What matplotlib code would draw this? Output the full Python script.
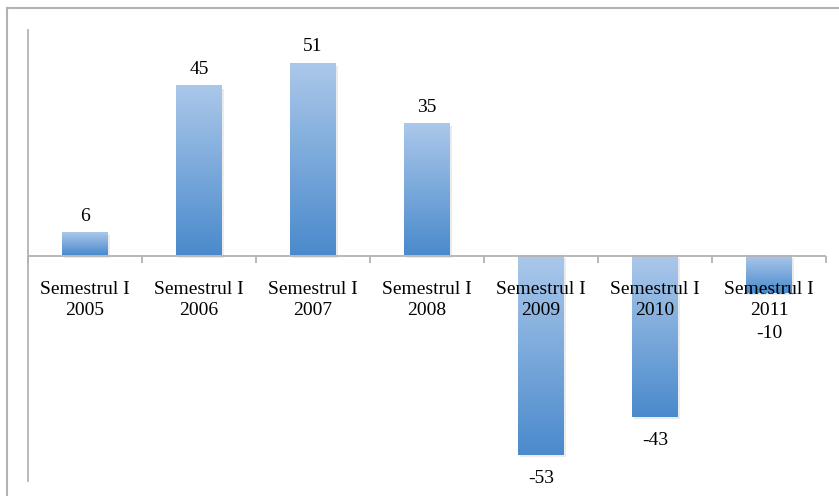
import numpy as np
import matplotlib
matplotlib.use("Agg")
import matplotlib.pyplot as plt
from matplotlib.colors import LinearSegmentedColormap
from matplotlib.lines import Line2D
import matplotlib.transforms as mtransforms

# chart data
categories = ["Semestrul I\n2005", "Semestrul I\n2006", "Semestrul I\n2007",
              "Semestrul I\n2008", "Semestrul I\n2009", "Semestrul I\n2010",
              "Semestrul I\n2011"]
values = [6, 45, 51, 35, -53, -43, -10]
value_labels = ["6", "45", "51", "35", "-53", "-43", "-10"]

W, H = 839, 496
fig = plt.figure(figsize=(W / 100, H / 100), dpi=100)
ax = fig.add_axes([28 / W, 1 - 481 / H, (826 - 28) / W, (481 - 30) / H])

grey = "#b3b3b3"
font = {"family": "Liberation Serif", "size": 14}

# gradient from light top to darker bottom
cmap = LinearSegmentedColormap.from_list("blue_grad", ["#abc8ea", "#4a8acc"])
grad = np.linspace(0, 1, 256).reshape(-1, 1)

x = np.arange(len(values))
bars = ax.bar(x, values, width=0.4, color="none", edgecolor="none", zorder=1)
for b in bars:
    x0, w = b.get_x(), b.get_width()
    y0, y1 = sorted([0, b.get_height()])
    # faint shadow
    ax.bar(x0 + w / 2 + 0.02, y1 - y0, bottom=y0 - 0.6, width=w,
           color="#000000", alpha=0.08, zorder=0.9)
    ax.imshow(grad, cmap=cmap, aspect="auto", extent=(x0, x0 + w, y0, y1),
              origin="upper", zorder=1)
ax.set_xlim(-0.5, len(values) - 0.5)
ax.set_ylim(-60, 60)

# value labels
for xi, v, lab in zip(x, values, value_labels):
    if v >= 0:
        ax.annotate(lab, (xi, v), xytext=(0, 6), textcoords="offset points",
                    ha="center", va="bottom", **font)
    elif v > -20:
        ax.annotate(lab, (xi, v), xytext=(0, -23), textcoords="offset points",
                    ha="center", va="top", **font)
    else:
        ax.annotate(lab, (xi, v), xytext=(0, -11), textcoords="offset points",
                    ha="center", va="top", **font)

# axes styling
for s in ["top", "right", "bottom"]:
    ax.spines[s].set_visible(False)
ax.spines["left"].set_color(grey)
ax.spines["left"].set_linewidth(1.3)
ax.axhline(0, color=grey, lw=1.3, zorder=2)
ax.set_yticks([])
ax.set_xticks(x)
ax.set_xticklabels(categories, linespacing=1.35, **font)
ax.tick_params(axis="x", which="major", length=0)
ax.set_xticks(np.arange(len(values) + 1) - 0.5, minor=True)
ax.tick_params(axis="x", which="minor", length=5, color=grey, width=1.3)
ax.xaxis.set_ticks_position("bottom")
# move tick marks and labels up to the zero line
for t in ax.xaxis.get_minor_ticks():
    t.tick1line.set_transform(ax.get_xaxis_transform())
    t.tick1line.set_ydata([0.5])
for t in ax.xaxis.get_major_ticks():
    t.label1.set_y(0.5)
    t.label1.set_transform(ax.get_xaxis_transform() +
                           mtransforms.ScaledTranslation(0, -18 / 72, fig.dpi_scale_trans))
    t.label1.set_va("top")

# outer frame (left and top edges visible)
fig.add_artist(Line2D([7 / W, 7 / W], [0, 1 - 8 / H], color=grey, lw=1.5,
                      transform=fig.transFigure))
fig.add_artist(Line2D([7 / W, 1], [1 - 8 / H, 1 - 8 / H], color=grey, lw=1.5,
                      transform=fig.transFigure))

fig.savefig("out.png", dpi=100)
